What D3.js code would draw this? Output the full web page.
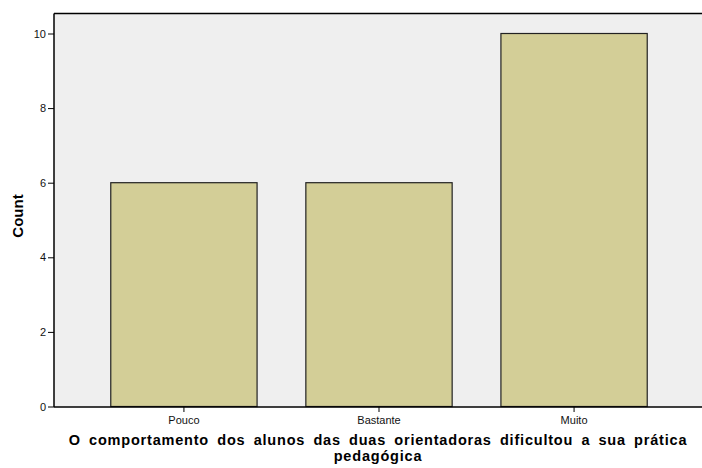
<!DOCTYPE html>
<html><head><meta charset="utf-8">
<script src="https://cdn.jsdelivr.net/npm/d3@7"></script>
<style>body{margin:0;background:#fff}svg{display:block}text{font-family:"Liberation Sans",Arial,sans-serif}</style>
</head><body><svg id="c" width="702" height="468"></svg>
<script>
const categories = ["Pouco", "Bastante", "Muito"];
const counts = [6, 6, 10];
const yTicks = [0, 2, 4, 6, 8, 10];
const xTitle = ["O comportamento dos alunos das duas orientadoras dificultou a sua prática", "pedagógica"];
const yTitle = "Count";

const svg = d3.select("#c");
const plot = {left: 54, top: 13.5, right: 702, bottom: 407};
const x = d3.scaleBand().domain(categories).range([62, 696]).paddingInner(0.25).paddingOuter(0.25);
const y = d3.scaleLinear().domain([0, 10]).range([406.5, 33.5]);

svg.append("rect").attr("x", plot.left).attr("y", plot.top)
  .attr("width", plot.right - plot.left).attr("height", plot.bottom - plot.top).attr("fill", "#efefef");

svg.selectAll(".bar").data(counts).enter().append("rect")
  .attr("x", (d, i) => x(categories[i])).attr("y", d => y(d))
  .attr("width", x.bandwidth()).attr("height", d => y(0) - y(d))
  .attr("fill", "#d3ce97").attr("stroke", "#222").attr("stroke-width", 1.2);

svg.append("line").attr("x1", plot.left).attr("x2", plot.right).attr("y1", plot.top).attr("y2", plot.top).attr("stroke", "#000").attr("stroke-width", 1.5);

const ya = svg.append("g").attr("transform", `translate(${plot.left},0)`)
  .call(d3.axisLeft(y).tickValues(yTicks).tickSize(6).tickPadding(2).tickFormat(d3.format("d")));
ya.select(".domain").attr("d", `M0,${plot.top}V${plot.bottom}`).attr("stroke-width", 1.5);
ya.selectAll("text").attr("font-size", 11).attr("fill", "#111");

const xa = svg.append("g").attr("transform", `translate(0,${plot.bottom})`)
  .call(d3.axisBottom(x).tickSize(5).tickPadding(4));
xa.select(".domain").attr("d", `M${plot.left},0H${plot.right}`).attr("stroke-width", 1.5);
xa.selectAll("text").attr("font-size", 11).attr("fill", "#111");

svg.append("text").attr("transform", "translate(23,216) rotate(-90)").attr("text-anchor", "middle")
  .attr("font-size", 15).attr("font-weight", "bold").text(yTitle);

svg.selectAll(".xt").data(xTitle).enter().append("text")
  .attr("x", 378).attr("y", (d, i) => 444.5 + i * 16.5).attr("text-anchor", "middle")
  .attr("font-size", 14.5).attr("font-weight", "bold").attr("letter-spacing", 0.8).attr("word-spacing", 3.4).text(d => d);
</script></body></html>
